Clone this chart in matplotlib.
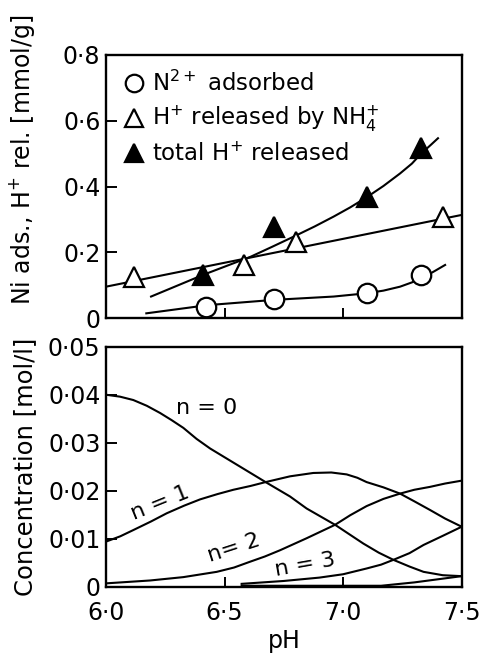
import matplotlib
matplotlib.use("Agg")
import matplotlib.pyplot as plt

plt.rcParams['font.family'] = ['DejaVu Sans']
plt.rcParams['mathtext.fontset'] = 'dejavusans'

# === 上图：吸附 / 释放量 (mmol/g) ===
ph_ni = [6.42, 6.71, 7.10, 7.33]
ni_ads = [0.035, 0.058, 0.076, 0.132]
ph_h_nh4 = [6.12, 6.58, 6.80, 7.42]
h_nh4 = [0.125, 0.162, 0.233, 0.307]
ph_h_tot = [6.41, 6.71, 7.10, 7.33]
h_tot = [0.132, 0.278, 0.370, 0.516]

# 拟合曲线
fit_ph_nh4 = [6.0, 7.5]
fit_nh4 = [0.096, 0.314]
fit_ph_tot = [6.19, 6.41, 6.61, 6.70, 6.80, 6.88, 6.96, 7.03, 7.10, 7.17, 7.24, 7.29, 7.33, 7.37, 7.40]
fit_tot = [0.066, 0.132, 0.187, 0.217, 0.251, 0.279, 0.309, 0.337, 0.368, 0.402, 0.440, 0.470, 0.501, 0.527, 0.547]
fit_ph_ni = [6.17, 6.43, 6.71, 6.96, 7.10, 7.17, 7.24, 7.29, 7.33, 7.38, 7.43]
fit_ni = [0.015, 0.040, 0.056, 0.066, 0.076, 0.084, 0.096, 0.109, 0.122, 0.141, 0.162]

# === 下图：各物种浓度 (mol/l) ===
ph_n0 = [6.0, 6.059, 6.115, 6.172, 6.228, 6.277, 6.326, 6.382, 6.439, 6.673, 6.776, 6.846,
         6.966, 7.085, 7.15, 7.212, 7.28, 7.339, 7.42, 7.5]
conc_n0 = [0.0400, 0.0396, 0.0389, 0.0377, 0.0362, 0.0347, 0.0331, 0.0308, 0.0288, 0.0218, 0.0188, 0.0163,
           0.0129, 0.0090, 0.0071, 0.0056, 0.0042, 0.0031, 0.0024, 0.0022]
ph_n1 = [6.0, 6.06, 6.115, 6.19, 6.256, 6.33, 6.397, 6.47, 6.537, 6.61, 6.673, 6.776, 6.874,
         6.95, 7.015, 7.06, 7.099, 7.17, 7.240, 7.30, 7.366, 7.43, 7.5]
conc_n1 = [0.0094, 0.0105, 0.0118, 0.0136, 0.0153, 0.0169, 0.0182, 0.0193, 0.0202, 0.0210, 0.0218, 0.0230, 0.0237,
           0.0238, 0.0234, 0.0227, 0.0218, 0.0207, 0.0194, 0.0178, 0.0160, 0.0142, 0.0125]
ph_n2 = [6.0, 6.186, 6.326, 6.467, 6.54, 6.607, 6.67, 6.734, 6.846, 6.966, 7.03, 7.099, 7.17, 7.240, 7.30,
         7.366, 7.43, 7.5]
conc_n2 = [0.0007, 0.0013, 0.0020, 0.0031, 0.0040, 0.0052, 0.0063, 0.0076, 0.0101, 0.0129, 0.0149, 0.0168, 0.0183,
           0.0194, 0.0202, 0.0208, 0.0215, 0.0221]
ph_n3 = [6.572, 6.75, 6.9, 7.0, 7.099, 7.16, 7.212, 7.28, 7.339, 7.42, 7.5]
conc_n3 = [0.0006, 0.0012, 0.0019, 0.0026, 0.0038, 0.0046, 0.0056, 0.0070, 0.0087, 0.0106, 0.0125]
ph_n4 = [6.572, 7.16, 7.3, 7.5]
conc_n4 = [0.0002, 0.0002, 0.0009, 0.0022]

n_labels = ["n = 0", "n = 1", "n= 2", "n = 3"]

# 刻度
x_ticks = [6.0, 6.5, 7.0, 7.5]
x_ticklabels = ["6·0", "6·5", "7·0", "7·5"]
top_yticks = [0, 0.2, 0.4, 0.6, 0.8]
top_yticklabels = ["0", "0·2", "0·4", "0·6", "0·8"]
bot_yticks = [0, 0.01, 0.02, 0.03, 0.04, 0.05]
bot_yticklabels = ["0", "0·01", "0·02", "0·03", "0·04", "0·05"]

FS = 17
LW = 1.5

fig = plt.figure(figsize=(4.79, 6.53), dpi=100)
ax1 = fig.add_axes([0.2213, 0.5126, 0.7426, 0.4032])
ax2 = fig.add_axes([0.2213, 0.1015, 0.7426, 0.3675])

for ax in (ax1, ax2):
    for s in ax.spines.values():
        s.set_linewidth(1.7)
    ax.tick_params(direction='in', width=1.4, labelsize=FS, pad=4)
    ax.tick_params(axis='y', length=8)
    ax.tick_params(axis='x', length=7)
    ax.set_xlim(6.0, 7.5)

# --- 上图 ---
ax1.plot(fit_ph_nh4, fit_nh4, color='black', lw=LW)
ax1.plot(fit_ph_tot, fit_tot, color='black', lw=LW)
ax1.plot(fit_ph_ni, fit_ni, color='black', lw=LW)
ax1.plot(ph_ni, ni_ads, 'o', ms=14, mfc='white', mec='black', mew=1.6,
         label="N$^{2+}$ adsorbed", zorder=5)
ax1.plot(ph_h_nh4, h_nh4, '^', ms=14, mfc='white', mec='black', mew=1.6,
         label="H$^{+}$ released by NH$_4^{+}$", zorder=5)
ax1.plot(ph_h_tot, h_tot, '^', ms=14, mfc='black', mec='black', mew=1.6,
         label="total H$^{+}$ released", zorder=5)
ax1.set_ylim(0, 0.8)
ax1.set_yticks(top_yticks)
ax1.set_yticklabels(top_yticklabels)
ax1.set_xticks(x_ticks)
ax1.set_xticklabels([])
ax1.set_ylabel("Ni ads., H$^{+}$ rel. [mmol/g]", fontsize=17)
ax1.yaxis.set_label_coords(-0.195, 0.6)
ax1.legend(loc='upper left', frameon=False, fontsize=16.5, handlelength=1.0,
           handletextpad=0.3, labelspacing=0.35, borderaxespad=0.4, borderpad=0.3,
           markerscale=0.9)

# --- 下图 ---
for xs, ys in [(ph_n0, conc_n0), (ph_n1, conc_n1), (ph_n2, conc_n2),
               (ph_n3, conc_n3), (ph_n4, conc_n4)]:
    ax2.plot(xs, ys, color='black', lw=LW)

ax2.text(6.426, 0.0372, n_labels[0], fontsize=16, ha='center', va='center')
ax2.text(6.228, 0.0174, n_labels[1], fontsize=16, ha='center', va='center', rotation=22)
ax2.text(6.537, 0.0080, n_labels[2], fontsize=16, ha='center', va='center', rotation=18)
ax2.text(6.839, 0.0045, n_labels[3], fontsize=16, ha='center', va='center', rotation=10)

ax2.set_ylim(0, 0.05)
ax2.set_yticks(bot_yticks)
ax2.set_yticklabels(bot_yticklabels)
ax2.set_xticks(x_ticks)
ax2.set_xticklabels(x_ticklabels)
ax2.tick_params(axis='x', pad=10)
ax2.set_xlabel("pH", fontsize=FS, labelpad=3)
ax2.set_ylabel("Concentration [mol/l]", fontsize=17.5)
ax2.yaxis.set_label_coords(-0.195, 0.5)

fig.savefig("out.png", dpi=100)
